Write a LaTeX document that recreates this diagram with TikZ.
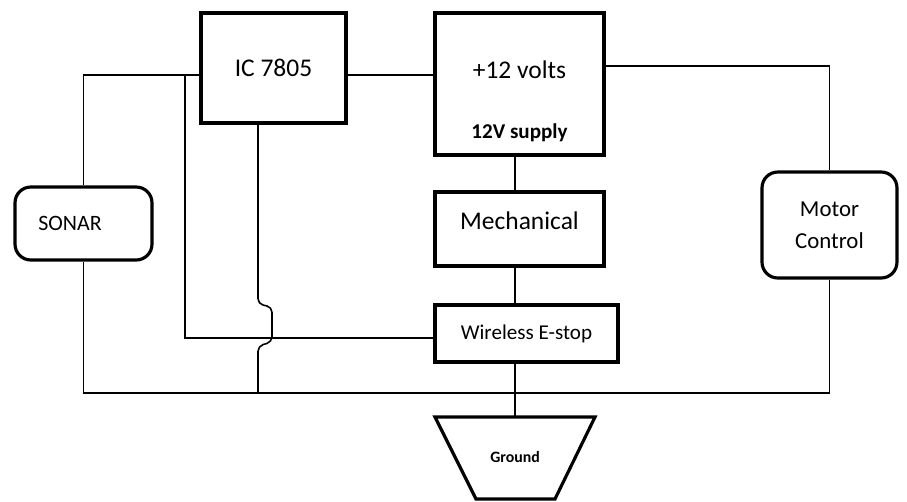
\documentclass[tikz,border=0pt]{standalone}
\usepackage{fontspec}
\setmainfont{Carlito}
\tikzset{
	blk/.style={draw, rectangle, line width=1.8pt, inner sep=0pt},
	rblk/.style={blk, rounded corners=9pt},
	wire/.style={line width=0.9pt},
	big/.style={font=\fontsize{14.5}{17}\selectfont}
}
\begin{document}
\begin{tikzpicture}[x=0.02cm, y=-0.02cm]
	\useasboundingbox (0,0) rectangle (907,501);
	% blocks
	\node[blk, big, minimum width=2.9cm, minimum height=2.2cm] (ic) at (273.5,68) {IC 7805};
	\node[blk, minimum width=3.38cm, minimum height=2.84cm,
		label={[big, yshift=0.28cm]center:+12 volts},
		label={[font=\fontsize{12}{14}\selectfont\bfseries, yshift=-0.97cm]center:12V supply}] (p12) at (519.5,84) {};
	\node[blk, minimum width=3.38cm, minimum height=1.48cm,
		label={[big, yshift=0.16cm]center:Mechanical}] (mec) at (519.5,229) {};
	\node[blk, font=\fontsize{12}{14}\selectfont, minimum width=3.66cm, minimum height=1.14cm] (wes) at (526.5,333.5) {Wireless E-stop};
	\node[rblk, minimum width=2.74cm, minimum height=1.46cm,
		label={[font=\fontsize{12.5}{15}\selectfont, xshift=-0.27cm]center:SONAR}] (son) at (83.5,223.5) {};
	\node[rblk, align=center, font=\fontsize{13}{18}\selectfont, minimum width=2.7cm, minimum height=2.12cm] (mot) at (829.5,225) {Motor\\Control};
	% ground
	\draw[line width=1.8pt] (435,417) -- (595,417) -- (555,499) -- (476,499) -- cycle;
	\node[font=\fontsize{9}{11}\selectfont\bfseries] (gnd) at (515,457) {Ground};
	\coordinate (gt) at (515,417);
	\coordinate (tl) at (0,75);
	\coordinate (tr) at (0,66);
	\coordinate (bus) at (0,393);
	\coordinate (j1) at (185,75);
	\coordinate (j2) at (185,338);
	\coordinate (j3) at (258,393);
	% wires
	\draw[wire] (son.north) -- (son.north |- tl) -- (ic.west |- tl);
	\draw[wire] (ic.east |- tl) -- (p12.west |- tl);
	\draw[wire] (j1) -- (j2) -- (wes.west |- j2);
	\draw[wire, rounded corners=3pt] (ic.south -| j3) -- (258,304) -- (272,307) -- (272,342) -- (258,346) -- (j3);
	\draw[wire] (son.south) -- (son.south |- bus) -- (mot.south |- bus) -- (mot.south);
	\draw[wire] (p12.east |- tr) -- (mot.north |- tr) -- (mot.north);
	\draw[wire] (p12.south -| gt) -- (mec.north -| gt);
	\draw[wire] (mec.south -| gt) -- (wes.north -| gt);
	\draw[wire] (wes.south -| gt) -- (gt);
\end{tikzpicture}
\end{document}
